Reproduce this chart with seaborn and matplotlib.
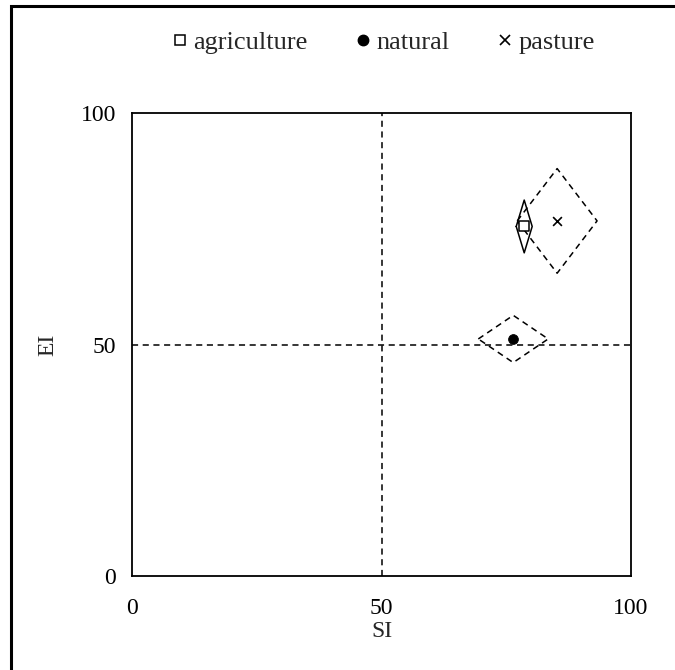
import matplotlib
matplotlib.use('Agg')
import matplotlib.pyplot as plt
from matplotlib.lines import Line2D
from matplotlib.patches import Rectangle
import seaborn as sns
import pandas as pd

# land use groups, mean SI / EI and the half-widths of the spread diamonds
groups = ['agriculture', 'natural', 'pasture']
si_mean = [78.6, 76.4, 85.2]
ei_mean = [75.5, 51.2, 76.7]
si_err = [1.6, 7.0, 8.0]
ei_err = [5.7, 5.1, 11.3]
diamond_style = ['-', '--', '--']

ticks = [0, 50, 100]

df = pd.DataFrame({'group': groups, 'SI': si_mean, 'EI': ei_mean})

sns.set_style('white')
plt.rcParams['font.family'] = ['Liberation Serif', 'DejaVu Serif']

fig = plt.figure(figsize=(6.75, 6.7), dpi=100)
ax = fig.add_axes([0.1956, 0.1403, 0.7392, 0.691])

dash = (0, (4, 3))

# quadrant lines
ax.axvline(50, color='black', lw=1.1, ls=dash, zorder=1)
ax.axhline(50, color='black', lw=1.1, ls=dash, zorder=1)

# diamonds joining the ends of the SI and EI spreads
for i, g in enumerate(groups):
    xs = [si_mean[i] - si_err[i], si_mean[i], si_mean[i] + si_err[i], si_mean[i], si_mean[i] - si_err[i]]
    ys = [ei_mean[i], ei_mean[i] + ei_err[i], ei_mean[i], ei_mean[i] - ei_err[i], ei_mean[i]]
    ax.plot(xs, ys, color='black', lw=1.1,
            ls='-' if diamond_style[i] == '-' else dash, zorder=2)

sns.scatterplot(data=df[df.group == 'agriculture'], x='SI', y='EI', marker='s', s=45,
                facecolor='white', edgecolor='black', linewidth=1.1, ax=ax, zorder=3)
sns.scatterplot(data=df[df.group == 'natural'], x='SI', y='EI', marker='o', s=50,
                color='black', edgecolor='black', ax=ax, zorder=3)
sns.scatterplot(data=df[df.group == 'pasture'], x='SI', y='EI', marker='x', s=40,
                color='black', linewidth=1.2, ax=ax, zorder=3)

ax.set_xlim(0, 100)
ax.set_ylim(0, 100)
ax.set_xticks(ticks)
ax.set_yticks(ticks)
ax.tick_params(direction='inout', length=7, width=1.1, labelsize=17, colors='black')
ax.tick_params(axis='x', pad=12)
ax.tick_params(axis='y', pad=8)
for sp in ax.spines.values():
    sp.set_color('black')
    sp.set_linewidth(1.3)
ax.set_xlabel('SI', fontsize=17, labelpad=2)
ax.set_ylabel('EI', fontsize=17, labelpad=16)

handles = [
    Line2D([], [], ls='none', marker='s', ms=7, mfc='white', mec='black', mew=1.1),
    Line2D([], [], ls='none', marker='o', ms=7.5, mfc='black', mec='black'),
    Line2D([], [], ls='none', marker='x', ms=6.5, mec='black', mew=1.2),
]
fig.legend(handles, groups, loc='center', bbox_to_anchor=(0.566, 0.937), ncol=3,
           frameon=False, fontsize=19, handletextpad=0.1, columnspacing=1.7,
           handlelength=0.8)

# chart border (only top and left edges fall inside the image)
fig.patches.append(Rectangle((11 / 675, -0.1), 1.2, 1.1 - 6 / 670, transform=fig.transFigure,
                             fill=False, edgecolor='black', lw=2.2))

fig.savefig('out.png', dpi=100)
